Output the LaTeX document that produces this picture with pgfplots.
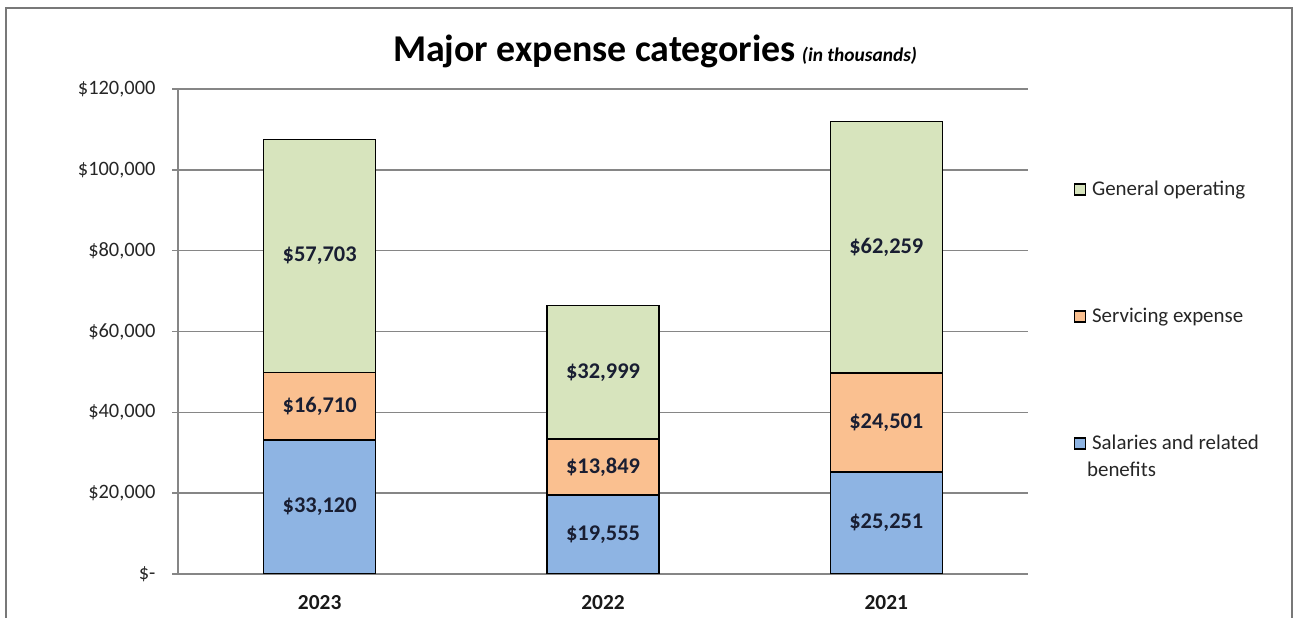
\documentclass[border=0pt]{standalone}
\usepackage{pgfplots}
\pgfplotsset{compat=1.18}
\usepackage{pgfplotstable}
\usepackage{fontspec}
\setmainfont{Carlito}
\definecolor{cblue}{RGB}{142,180,227}
\definecolor{corange}{RGB}{250,192,144}
\definecolor{cgreen}{RGB}{215,228,189}
\definecolor{cgrid}{RGB}{134,134,134}
\definecolor{cframe}{RGB}{120,120,120}
\definecolor{clabel}{RGB}{25,30,50}
\pgfplotstableread{
x a b c
0 33120 16710 57703
1 19555 13849 32999
2 25251 24501 62259
}\datatable
\begin{document}
\begin{tikzpicture}[x=1bp,y=1bp]
\useasboundingbox (0,0) rectangle (1297,618);
\draw[cframe, line width=2bp] (6,-10) -- (6,610) -- (1292,610) -- (1292,-10);
\node[anchor=base] at (655,556) {\fontsize{38}{42}\selectfont\bfseries Major expense categories\,{\fontsize{19.5}{22}\selectfont\itshape (in thousands)}};
\begin{axis}[
  at={(178bp,44bp)}, anchor=south west,
  scale only axis, width=850bp, height=485bp,
  ybar stacked, bar width=112bp,
  xmin=-0.5, xmax=2.5, ymin=0, ymax=120000,
  xtick={0,1,2}, xticklabels={2023,2022,2021},
  ytick={0,20000,40000,60000,80000,100000,120000},
  yticklabels={{\$-},{\$20,000},{\$40,000},{\$60,000},{\$80,000},{\$100,000},{\$120,000}},
  scaled y ticks=false,
  /pgf/number format/assume math mode=true,
  axis x line*=bottom, axis y line*=left,
  axis line style={cgrid, line width=1.6bp, -},
  tick align=outside, major tick length=6bp,
  y tick style={cgrid, line width=1.6bp},
  x tick style={draw=none},
  ymajorgrids, grid style={cgrid, line width=1.6bp},
  yticklabel style={font=\fontsize{20.5}{24}\selectfont, text=black!85, xshift=-13bp},
  xticklabel style={font=\fontsize{21.5}{24}\selectfont\bfseries, text=black!90, yshift=-12bp},
  legend style={at={(1.050,0.818)}, anchor=north west, draw=none, fill=none,
    row sep=107bp, font=\fontsize{21}{24}\selectfont, text=black!85,
    cells={anchor=west}},
  reverse legend,
  legend image code/.code={\draw[#1, line width=1.4bp] (0bp,-5.5bp) rectangle (11bp,5.5bp);},
]
\addplot[fill=cblue, draw=black, line width=1.4bp] table[x=x,y=a]{\datatable};
\addlegendentry{\kern4bp\vtop{\baselineskip=27bp\hbox{Salaries and related}\hbox{\kern-5bp benefits}}}
\addplot[fill=corange, draw=black, line width=1.4bp] table[x=x,y=b]{\datatable};
\addlegendentry{\kern4bp Servicing expense}
\addplot[fill=cgreen, draw=black, line width=1.4bp] table[x=x,y=c]{\datatable};
\addlegendentry{\kern4bp General operating}
\end{axis}
\begin{axis}[
  at={(178bp,44bp)}, anchor=south west,
  scale only axis, width=850bp, height=485bp,
  xmin=-0.5, xmax=2.5, ymin=0, ymax=120000,
  hide axis,
  point meta=explicit,
  nodes near coords={\$\pgfmathprintnumber[fixed, precision=0, 1000 sep={,}, assume math mode=true]{\pgfplotspointmeta}},
  nodes near coords style={anchor=center, font=\fontsize{22.5}{26}\selectfont\bfseries, text=clabel},
]
\addplot[draw=none, mark=none] table[x=x, y expr=\thisrow{a}/2, meta=a]{\datatable};
\addplot[draw=none, mark=none] table[x=x, y expr=\thisrow{a}+\thisrow{b}/2, meta=b]{\datatable};
\addplot[draw=none, mark=none] table[x=x, y expr=\thisrow{a}+\thisrow{b}+\thisrow{c}/2, meta=c]{\datatable};
\end{axis}
\end{tikzpicture}
\end{document}
